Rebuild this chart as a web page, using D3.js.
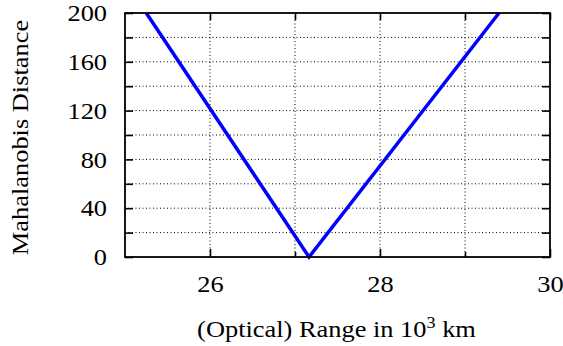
<!DOCTYPE html>
<html>
<head>
<meta charset="utf-8">
<script src="https://cdn.jsdelivr.net/npm/d3@7"></script>
<style>
  html, body { margin: 0; padding: 0; background: #fff; }
  svg { display: block; }
</style>
</head>
<body>
<svg id="chart" width="563" height="346"></svg>
<script>
// Mahalanobis distance against optical range (thousands of km)
const rangeKm = [25.25, 27.165, 29.40];
const distance = [200, 0, 200];

const xMajorTicks = [26, 28, 30];
const xMinorTicks = [27, 29];
const yTicks = [0, 20, 40, 60, 80, 100, 120, 140, 160, 180, 200];
const yLabelTicks = [0, 40, 80, 120, 160, 200];

const SERIF = '"Liberation Serif", "Times New Roman", Times, serif';
const FS = 24;      // font size
const SX = 1.1;     // slightly wide type along the writing direction

const W = 563, H = 346;
const m = { left: 125, right: 13, top: 13, bottom: 89 };
const iw = W - m.left - m.right, ih = H - m.top - m.bottom;

const svg = d3.select("#chart");
const g = svg.append("g").attr("transform", `translate(${m.left},${m.top})`);

const x = d3.scaleLinear().domain([25, 30]).range([0, iw]);
const y = d3.scaleLinear().domain([0, 200]).range([ih, 0]);

// dotted grid
const gridStyle = s => s.attr("stroke", "#000").attr("stroke-width", 1)
  .attr("stroke-dasharray", "1,2.5").attr("fill", "none");
g.append("g").selectAll("line").data(yTicks.filter(d => d > 0 && d < 200)).join("line")
  .attr("x1", 0).attr("x2", iw).attr("y1", d => y(d)).attr("y2", d => y(d)).call(gridStyle);
g.append("g").selectAll("line").data([26, 27, 28, 29]).join("line")
  .attr("y1", 0).attr("y2", ih).attr("x1", d => x(d)).attr("x2", d => x(d)).call(gridStyle);

// axes: inward ticks on all four sides
const yLeft = d3.axisLeft(y).tickValues(yTicks).tickSize(-8)
  .tickFormat(d => yLabelTicks.includes(d) ? d3.format("d")(d) : "").tickPadding(18);
const yRight = d3.axisRight(y).tickValues(yTicks).tickSize(-8).tickFormat("");
const xBottom = d3.axisBottom(x).tickValues(xMajorTicks).tickSize(-8)
  .tickFormat(d3.format("d")).tickPadding(18);
const xBottomMinor = d3.axisBottom(x).tickValues(xMinorTicks).tickSize(-5).tickFormat("");
const xTop = d3.axisTop(x).tickValues(xMajorTicks.concat(xMinorTicks)).tickSize(-7).tickFormat("");

function styleAxis(sel) {
  sel.attr("font-family", null).attr("font-size", null);
  sel.select(".domain").remove();
  sel.selectAll(".tick line").attr("stroke", "#000").attr("stroke-width", 1.6);
  sel.selectAll(".tick text").style("font-size", FS + "px")
    .style("font-family", SERIF).attr("fill", "#000")
    .attr("transform", function () {
      const tx = +this.getAttribute("x") || 0;
      return `translate(${tx},0) scale(${SX},1) translate(${-tx},0)`;
    });
}
g.append("g").call(yLeft).call(styleAxis);
g.append("g").attr("transform", `translate(${iw},0)`).call(yRight).call(styleAxis);
g.append("g").attr("transform", `translate(0,${ih})`).call(xBottom).call(styleAxis);
g.append("g").attr("transform", `translate(0,${ih})`).call(xBottomMinor).call(styleAxis);
g.append("g").call(xTop).call(styleAxis);

// curve
const line = d3.line().x((d, i) => x(rangeKm[i])).y(d => y(d));
g.append("path").datum(distance)
  .attr("d", line).attr("fill", "none").attr("stroke", "#0000ff")
  .attr("stroke-width", 3.5).attr("stroke-linejoin", "miter");

// frame
g.append("rect").attr("x", 0).attr("y", 0).attr("width", iw).attr("height", ih)
  .attr("fill", "none").attr("stroke", "#000").attr("stroke-width", 1.8);

// axis titles
const xt = svg.append("text")
  .attr("transform", `translate(${m.left + iw / 2 - 1},337) scale(${SX},1)`)
  .attr("text-anchor", "middle")
  .style("font-family", SERIF).style("font-size", FS + "px");
xt.append("tspan").text("(Optical) Range in 10");
xt.append("tspan").style("font-size", "16.5px").attr("dy", -9.5).text("3");
xt.append("tspan").attr("dy", 9.5).text(" km");

svg.append("text").attr("transform", `translate(28,${137.5}) rotate(-90) scale(${SX},1)`)
  .attr("text-anchor", "middle")
  .style("font-family", SERIF).style("font-size", FS + "px")
  .text("Mahalanobis Distance");
</script>
</body>
</html>
